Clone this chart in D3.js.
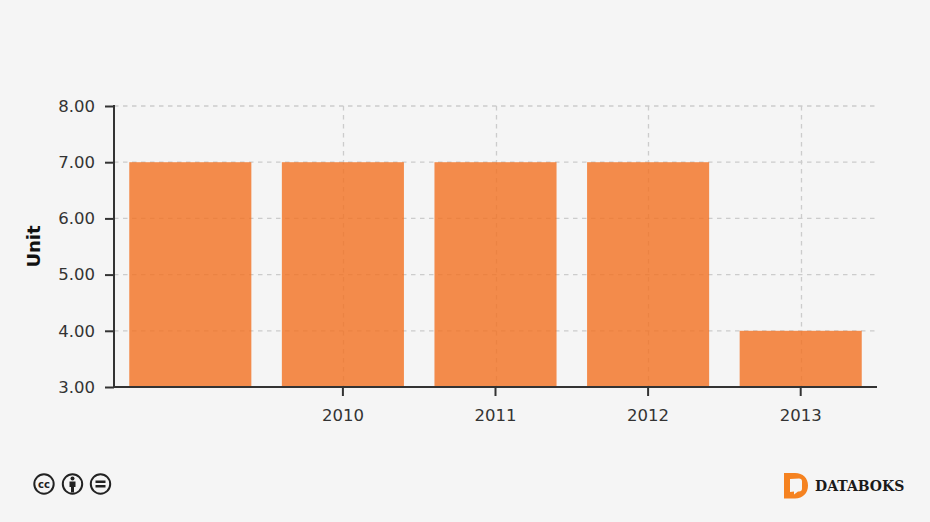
<!DOCTYPE html>
<html><head><meta charset="utf-8">
<script src="https://cdn.jsdelivr.net/npm/d3@7"></script>
<style>
html,body{margin:0;padding:0;background:#f5f5f5}
svg{display:block}
text{font-family:"DejaVu Sans",sans-serif}
</style></head><body>
<svg id="c" width="930" height="522"></svg>
<script>
const categories=["2009","2010","2011","2012","2013"];
const tickLabels=["2010","2011","2012","2013"];
const values=[7,7,7,7,4];
const yTicks=[3,4,5,6,7,8];
const yLabel="Unit";
const barColor="#f37021";
const W=930,H=522,mLeft=114,mRight=877,mTop=106,mBottom=387;
const svg=d3.select("#c");
svg.append("rect").attr("width",W).attr("height",H).attr("fill","#f5f5f5");
const x=d3.scaleBand().domain(categories).range([mLeft,mRight]).paddingInner(0.2).paddingOuter(0.1);
const y=d3.scaleLinear().domain([3,8]).range([mBottom,mTop]);
const cx=d=>Math.round(x(d)+x.bandwidth()/2)+0.5;
const g=svg.append("g");
// grid
g.append("g").selectAll("line").data(yTicks.filter(d=>d>3)).join("line")
 .attr("x1",mLeft).attr("x2",mRight-2).attr("y1",d=>y(d)).attr("y2",d=>y(d))
 .attr("stroke","#cccccc").attr("stroke-width",1.3).attr("stroke-dasharray","4.5 4.5");
g.append("g").selectAll("line").data(tickLabels).join("line")
 .attr("x1",cx).attr("x2",cx).attr("y1",mTop).attr("y2",mBottom)
 .attr("stroke","#cccccc").attr("stroke-width",1.3).attr("stroke-dasharray","4.5 4.5");
// bars
g.append("g").selectAll("rect").data(values).join("rect")
 .attr("x",(d,i)=>x(categories[i])).attr("width",x.bandwidth())
 .attr("y",d=>y(d)).attr("height",d=>mBottom-y(d))
 .attr("fill",barColor).attr("fill-opacity",.8);
// axes
const yA=svg.append("g").attr("transform",`translate(${mLeft},0)`)
 .call(d3.axisLeft(y).tickValues(yTicks).tickFormat(d3.format(".2f")).tickSize(9).tickPadding(10));
const xA=svg.append("g").attr("transform",`translate(0,${mBottom})`)
 .call(d3.axisBottom(x).tickValues(tickLabels).tickSize(9).tickPadding(13));
[yA,xA].forEach(a=>{
 a.selectAll("path.domain").attr("stroke","#333").attr("stroke-width",2).attr("d",a===yA?`M0,${mTop-1}V${mBottom+1}`:`M${mLeft},0H${mRight}`);
 a.selectAll("line").attr("stroke","#333").attr("stroke-width",2);
 a.selectAll("text").attr("font-family",'"DejaVu Sans",sans-serif').attr("font-size",16.5).attr("fill","#333");
});
svg.append("text").attr("transform",`translate(40,246.5) rotate(-90)`).attr("text-anchor","middle")
 .attr("font-size",18).attr("font-weight","bold").attr("fill","#111").text(yLabel);
// CC icons
const ic=svg.append("g").attr("fill","none").attr("stroke","#222").attr("stroke-width",2);
[44,72.5,100.5].forEach(c=>ic.append("circle").attr("cx",c).attr("cy",484).attr("r",9.7));
svg.append("text").attr("x",44).attr("y",487.5).attr("text-anchor","middle").attr("font-size",10).attr("font-weight","bold").attr("fill","#222").text("cc");
svg.append("circle").attr("cx",72.5).attr("cy",478.5).attr("r",2).attr("fill","#222");
svg.append("path").attr("d","M69.5,481.5h6v5.5h-1.5v5.5h-3v-5.5h-1.5z").attr("fill","#222");
svg.append("path").attr("d","M95.5,480.5h10v2.5h-10zM95.5,485h10v2.5h-10z").attr("fill","#222");
// logo
svg.append("path").attr("fill-rule","evenodd").attr("fill","#f58220")
 .attr("d","M784,473h11c8,0,13,5,13,12.5s-5,13-13,13h-11zM790,479v13l4-0.5v3l4-3h1c2,0,3-1,3-3v-7c0-2-1-3-3-3z");
svg.append("text").attr("x",815).attr("y",491).attr("font-weight","bold").attr("font-size",14).attr("fill","#1a1a1a").attr("style",'font-family:"DejaVu Serif",serif').text("DATABOKS");
</script>
</body></html>
